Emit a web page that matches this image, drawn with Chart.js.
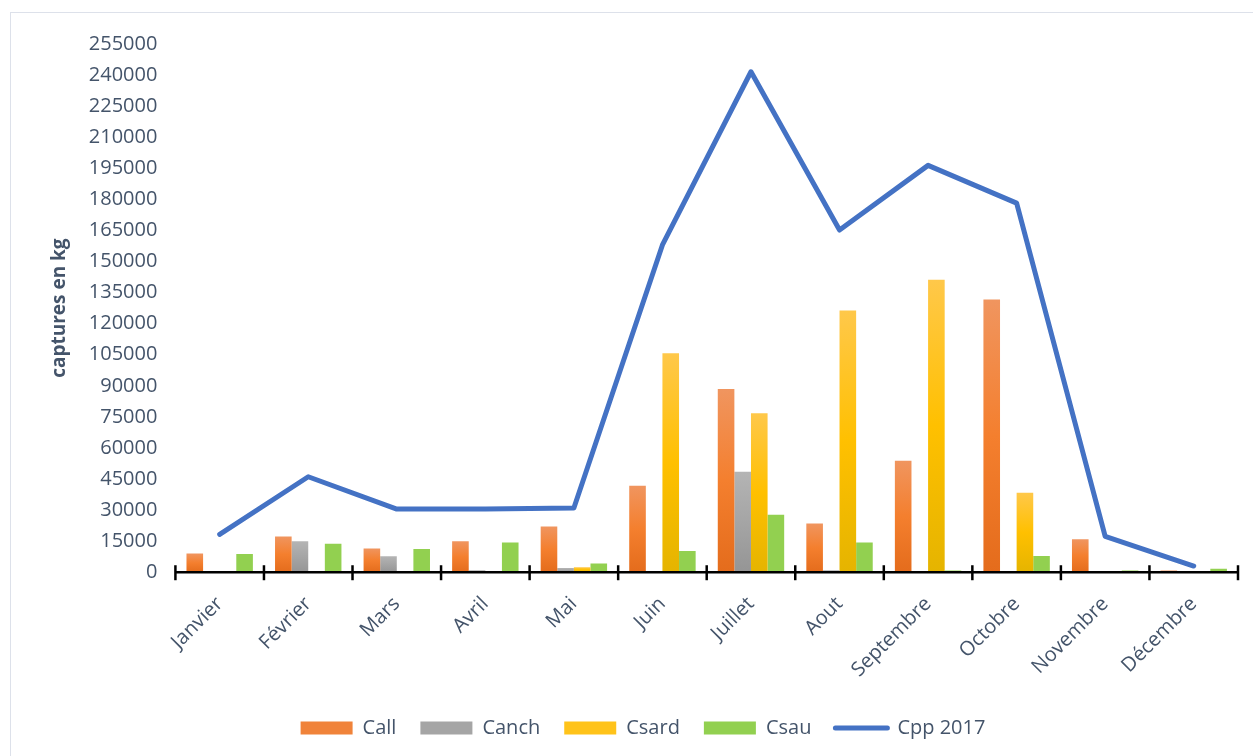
<!DOCTYPE html>
<html>
<head>
<meta charset="utf-8">
<script src="https://cdn.jsdelivr.net/npm/chart.js@4/dist/chart.umd.min.js"></script>
<style>
	html, body { margin: 0; padding: 0; background: #fff; }
	#frame {
		position: absolute; left: 10px; top: 12px; width: 1260px; height: 760px;
		border-left: 1px solid #dde1ea; border-top: 1px solid #dde1ea;
	}
	#wrap { position: absolute; left: 0; top: 0; width: 1253px; height: 756px; }
</style>
</head>
<body>
<div id="frame"></div>
<div id="wrap"><canvas id="captureChart" width="1253" height="756"></canvas></div>
<script>
// mois
const months = ['Janvier', 'Février', 'Mars', 'Avril', 'Mai', 'Juin', 'Juillet', 'Aout', 'Septembre', 'Octobre', 'Novembre', 'Décembre'];

// captures en kg par espèce
const callData  = [9000, 17300, 11500, 14900, 22100, 41800, 88400, 23500, 53800, 131600, 15900, 800];
const canchData = [0, 14900, 7700, 1000, 2000, 0, 48500, 1000, 0, 0, 0, 0];
const csardData = [0, 0, 0, 0, 2400, 105700, 76800, 126300, 141200, 38400, 0, 0];
const csauData  = [8800, 13800, 11200, 14400, 4200, 10200, 27700, 14300, 800, 7800, 800, 1700];
const cppData   = [18300, 46100, 30500, 30500, 31000, 158000, 241600, 165200, 196400, 178200, 17300, 3000];

const yMax = 255000;
const yStep = 15000;

const textColor = '#44546a';

// dégradé vertical façon Excel pour chaque barre
function barGradient(colors) {
	return function(context) {
		const chart = context.chart;
		const area = chart.chartArea;
		if (!area || context.type !== 'data') return colors[1];
		const yScale = chart.scales.y;
		const v = context.raw || 0;
		const top = yScale.getPixelForValue(v);
		const base = yScale.getPixelForValue(0);
		if (base - top < 1) return colors[2];
		const g = chart.ctx.createLinearGradient(0, top, 0, base);
		g.addColorStop(0, colors[0]);
		g.addColorStop(0.5, colors[1]);
		g.addColorStop(1, colors[2]);
		return g;
	};
}

const legendColors = ['#f0833a', '#a5a5a5', '#ffc31a', '#92d050', '#4472c4'];

// petites graduations de part et d'autre de l'axe x
const axisTicks = {
	id: 'axisTicks',
	afterDraw(chart) {
		const ctx = chart.ctx;
		const x = chart.scales.x;
		const y0 = chart.scales.y.getPixelForValue(0);
		ctx.save();
		ctx.strokeStyle = '#000';
		ctx.lineWidth = 2.5;
		ctx.beginPath();
		ctx.moveTo(x.left, y0);
		ctx.lineTo(x.right, y0);
		ctx.stroke();
		const n = months.length;
		const w = (x.right - x.left) / n;
		for (let i = 0; i <= n; i++) {
			const px = x.left + i * w;
			ctx.beginPath();
			ctx.moveTo(px, y0 - 7);
			ctx.lineTo(px, y0 + 8);
			ctx.stroke();
		}
		ctx.restore();
	}
};

new Chart(document.getElementById('captureChart'), {
	type: 'bar',
	data: {
		labels: months,
		datasets: [
			{
				label: 'Call',
				data: callData,
				backgroundColor: barGradient(['#f0955f', '#f47f2e', '#e46c1c']),
				order: 1
			},
			{
				label: 'Canch',
				data: canchData,
				backgroundColor: barGradient(['#b4b4b4', '#a5a5a5', '#959595']),
				order: 1
			},
			{
				label: 'Csard',
				data: csardData,
				backgroundColor: barGradient(['#ffc84a', '#ffc000', '#e5b400']),
				order: 1
			},
			{
				label: 'Csau',
				data: csauData,
				backgroundColor: '#92d050',
				order: 1
			},
			{
				type: 'line',
				label: 'Cpp 2017',
				data: cppData,
				borderColor: '#4472c4',
				backgroundColor: '#4472c4',
				borderWidth: 5,
				pointRadius: 0,
				tension: 0,
				borderCapStyle: 'round',
				borderJoinStyle: 'round',
				order: 0
			}
		]
	},
	options: {
		responsive: false,
		animation: false,
		layout: {
			padding: { left: 48, right: 15, top: 44, bottom: 8 }
		},
		datasets: {
			bar: {
				categoryPercentage: 0.75,
				barPercentage: 1.0
			}
		},
		plugins: {
			tooltip: { enabled: false },
			legend: {
				position: 'bottom',
				labels: {
					usePointStyle: true,
					pointStyleWidth: 52,
					boxHeight: 13,
					padding: 24,
					color: textColor,
					font: { family: 'Open Sans', size: 20 },
					generateLabels: function(chart) {
						return chart.data.datasets.map((ds, i) => ({
							text: ds.label,
							fillStyle: legendColors[i],
							strokeStyle: legendColors[i],
							lineWidth: ds.type === 'line' ? 5 : 0,
							lineCap: 'round',
							pointStyle: ds.type === 'line' ? 'line' : 'rect',
							fontColor: textColor,
							hidden: !chart.isDatasetVisible(i),
							datasetIndex: i
						}));
					}
				}
			}
		},
		scales: {
			x: {
				offset: true,
				border: { display: false },
				grid: { display: false },
				ticks: {
					color: textColor,
					font: { family: 'Open Sans', size: 20 },
					maxRotation: 45,
					minRotation: 45,
					padding: 12
				}
			},
			y: {
				min: 0,
				max: yMax,
				border: { display: false },
				grid: { display: false, drawTicks: false },
				title: {
					display: true,
					text: 'captures en kg',
					color: textColor,
					font: { family: 'Open Sans', size: 19, weight: 'bold' },
					padding: 0
				},
				ticks: {
					stepSize: yStep,
					color: textColor,
					font: { family: 'Open Sans', size: 20 },
					padding: 18,
					callback: (value) => String(value)
				}
			}
		}
	},
	plugins: [axisTicks]
});
</script>
</body>
</html>
